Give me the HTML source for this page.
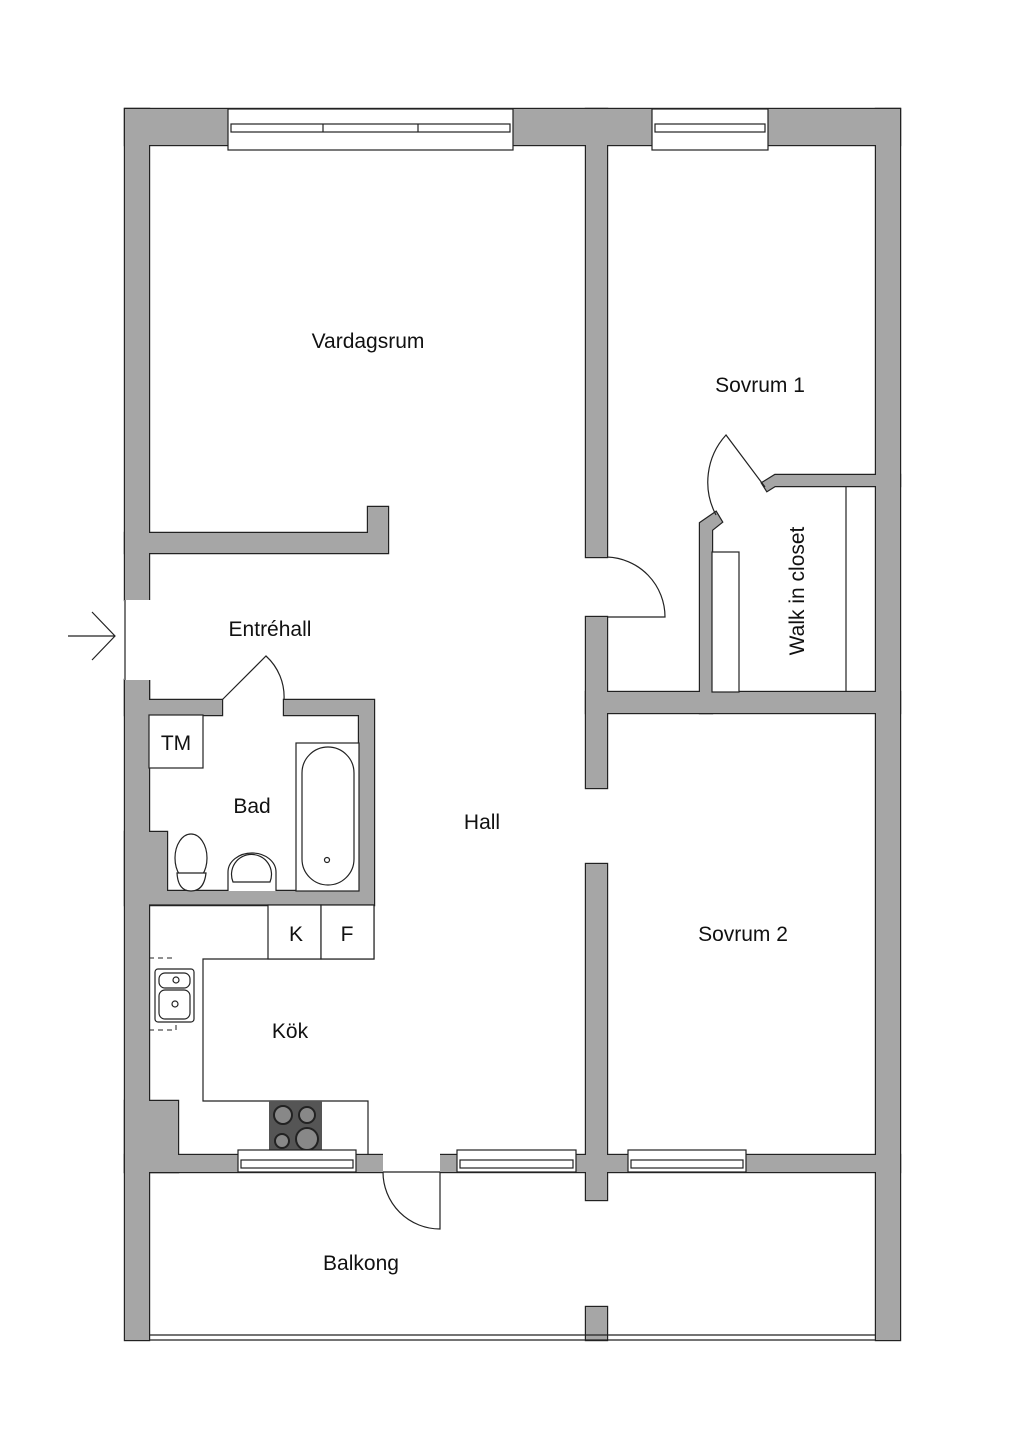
<!DOCTYPE html>
<html><head><meta charset="utf-8"><style>
body{margin:0;background:#fff}
svg{display:block}
text{font-family:"Liberation Sans",sans-serif;font-size:21px;fill:#111}
.l{fill:none;stroke:#222;stroke-width:1.2}
.f{fill:#fff;stroke:#222;stroke-width:1.2}
</style></head><body>
<svg width="1024" height="1448" viewBox="0 0 1024 1448">
<defs>
<g id="walls">
<rect x="125" y="109" width="775" height="36"/>
<rect x="125" y="109" width="24" height="491"/>
<rect x="125" y="680" width="24" height="660"/>
<rect x="876" y="109" width="24" height="1231"/>
<rect x="586" y="109" width="21" height="448"/>
<rect x="586" y="617" width="21" height="171"/>
<rect x="586" y="864" width="21" height="336"/>
<rect x="586" y="1307" width="21" height="33"/>
<path d="M125 533 H368 V507 H388 V553 H125 Z"/>
<rect x="586" y="692" width="314" height="21"/>
<path d="M700 713 V523 L716 512 L722 522 L712 530 V713 Z"/>
<path d="M900 475 H775 L762 483 L767 491 L775 486 H900 Z"/>
<path d="M125 680 H149 V700 H222 V715 H125 Z"/>
<path d="M284 700 H374 V905 H125 V832 H167 V891 H359 V715 H284 Z"/>
<path d="M125 1101 H178 V1172 H125 Z"/>
<rect x="125" y="1155" width="775" height="17"/>
</g>
</defs>
<use href="#walls" fill="#222" stroke="#222" stroke-width="2.4"/>
<use href="#walls" fill="#a6a6a6" stroke="none"/>
<!-- top windows -->
<rect class="f" x="228" y="109" width="285" height="41"/>
<rect class="f" x="231" y="124" width="279" height="8"/>
<line class="l" x1="323" y1="124" x2="323" y2="132"/><line class="l" x1="418" y1="124" x2="418" y2="132"/>
<rect class="f" x="652" y="109" width="116" height="41"/>
<rect class="f" x="655" y="124" width="110" height="8"/>
<path class="l" d="M607 557 A60 60 0 0 1 665 617 L607 617"/>
<path class="l" d="M765 487 L726 435 A70 70 0 0 0 716 515"/>
<rect class="f" x="712" y="552" width="27" height="140"/>
<line class="l" x1="846" y1="486" x2="846" y2="692"/>
<!-- bathroom -->
<path class="l" d="M222 700 L266 656 A55 55 0 0 1 284 700"/>
<rect class="f" x="149" y="715" width="54" height="53"/>
<rect class="f" x="296" y="743" width="63" height="148"/>
<rect class="f" x="302" y="747" width="52" height="138" rx="26"/>
<circle class="l" cx="327" cy="860" r="2.5"/>
<ellipse class="f" cx="191" cy="858" rx="16" ry="24"/>
<path class="f" d="M177 873 H206 Q204 891 191 891 Q178 891 177 873Z"/>
<path class="f" d="M228 891 V872 A24 19 0 0 1 276 872 V891"/>
<path class="l" d="M233 882 A20 20 0 1 1 270 882 Z"/>
<!-- kitchen -->
<path class="l" d="M149 905 H374 V959 H203 V1101 H368 V1155"/>
<rect class="f" x="268" y="905" width="53" height="54"/>
<rect class="f" x="321" y="905" width="53" height="54"/>
<path fill="none" stroke="#222" stroke-dasharray="5,4" d="M149 958 H176 M149 1030 H176 V1020"/>
<rect class="f" x="155" y="969" width="39" height="53" rx="3"/>
<rect class="f" x="159" y="973" width="31" height="15" rx="6"/>
<rect class="f" x="159" y="990" width="31" height="29" rx="6"/>
<circle class="l" cx="176" cy="980" r="3"/><circle class="l" cx="175" cy="1004" r="3"/>
<rect x="269" y="1101" width="53" height="50" fill="#555"/>
<circle cx="283" cy="1115" r="9" fill="#888" stroke="#222" stroke-width="2"/>
<circle cx="307" cy="1115" r="8" fill="#888" stroke="#222" stroke-width="2"/>
<circle cx="282" cy="1141" r="7" fill="#888" stroke="#222" stroke-width="2"/>
<circle cx="307" cy="1139" r="11" fill="#888" stroke="#222" stroke-width="2"/>
<!-- balcony windows/door -->
<rect class="f" x="238" y="1150" width="118" height="22"/>
<rect class="f" x="241" y="1160" width="112" height="8"/>
<rect class="f" x="457" y="1150" width="119" height="22"/>
<rect class="f" x="460" y="1160" width="113" height="8"/>
<rect class="f" x="628" y="1150" width="118" height="22"/>
<rect class="f" x="631" y="1160" width="112" height="8"/>
<rect x="383" y="1153" width="57" height="21" fill="#fff"/>
<line class="l" x1="383" y1="1172" x2="440" y2="1172"/>
<path class="l" d="M383 1172 A57 57 0 0 0 440 1229 V1172"/>
<line class="l" x1="149" y1="1335" x2="876" y2="1335"/>
<line class="l" x1="149" y1="1340" x2="876" y2="1340"/>
<!-- entrance -->
<rect x="124" y="600" width="27" height="80" fill="#fff"/>
<path class="l" d="M68 636 H115 M92 612 L115 636 L92 660" stroke-width="1.4"/>
<line class="l" x1="125" y1="600" x2="125" y2="680"/>
<!-- labels -->
<text x="368" y="348" text-anchor="middle">Vardagsrum</text>
<text x="760" y="392" text-anchor="middle">Sovrum 1</text>
<text transform="translate(804 591) rotate(-90)" text-anchor="middle">Walk in closet</text>
<text x="270" y="636" text-anchor="middle">Entréhall</text>
<text x="176" y="750" text-anchor="middle">TM</text>
<text x="252" y="813" text-anchor="middle">Bad</text>
<text x="482" y="829" text-anchor="middle">Hall</text>
<text x="296" y="941" text-anchor="middle">K</text>
<text x="347" y="941" text-anchor="middle">F</text>
<text x="290" y="1038" text-anchor="middle">Kök</text>
<text x="743" y="941" text-anchor="middle">Sovrum 2</text>
<text x="361" y="1270" text-anchor="middle">Balkong</text>
</svg>
</body></html>
